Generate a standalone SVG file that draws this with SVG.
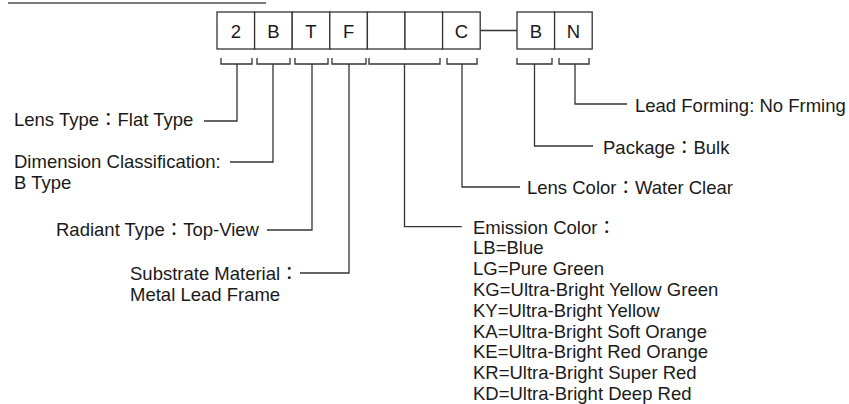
<svg xmlns="http://www.w3.org/2000/svg" width="849" height="404" viewBox="0 0 849 404">
<style>
text{font-family:"Liberation Sans","Noto Sans CJK TC",Arial,sans-serif;font-size:18.5px;fill:#1a1a1a}
.box{fill:#fff;stroke:#333;stroke-width:1.3}
.ch{text-anchor:middle}
.ln{fill:none;stroke:#333;stroke-width:1.3}
.top{stroke:#7a7a7a;stroke-width:2}
</style>
<rect width="849" height="404" fill="#fff"/>
<line class="top" x1="8" y1="3" x2="266" y2="3"/>
<g id="code">
<g id="box-2"><rect class="box" x="217" y="12" width="37.6" height="37"/><text class="ch" x="235.8" y="38">2</text></g>
<g id="box-B"><rect class="box" x="254.6" y="12" width="37.6" height="37"/><text class="ch" x="273.4" y="38">B</text></g>
<g id="box-T"><rect class="box" x="292.2" y="12" width="37.6" height="37"/><text class="ch" x="311" y="38">T</text></g>
<g id="box-F"><rect class="box" x="329.8" y="12" width="37.6" height="37"/><text class="ch" x="348.6" y="38">F</text></g>
<g id="box-e1"><rect class="box" x="367.4" y="12" width="37.6" height="37"/></g>
<g id="box-e2"><rect class="box" x="405" y="12" width="37.6" height="37"/></g>
<g id="box-C"><rect class="box" x="442.6" y="12" width="37.6" height="37"/><text class="ch" x="461.4" y="38">C</text></g>
<g id="box-B2"><rect class="box" x="517" y="12" width="37.6" height="37"/><text class="ch" x="535.8" y="38">B</text></g>
<g id="box-N"><rect class="box" x="554.6" y="12" width="37.6" height="37"/><text class="ch" x="573.4" y="38">N</text></g>
</g>
<g id="connectors">
<line class="ln" x1="480.2" y1="30.5" x2="517" y2="30.5"/>
<path class="ln" d="M221 58V64H252V58M237 64V121H204"/>
<path class="ln" d="M257 58V64H290V58M273 64V162H230"/>
<path class="ln" d="M295 58V64H328V58M312 64V230H267"/>
<path class="ln" d="M332 58V64H366V58M349 64V273H300"/>
<path class="ln" d="M369 58V64H440V58M404.5 64V226.7H461.7"/>
<path class="ln" d="M447 58V64H477V58M462 64V187H520"/>
<path class="ln" d="M517 58V64H552V58M534.5 64V146H593"/>
<path class="ln" d="M559 58V64H589V58M575 64V104H627"/>
</g>
<g id="label-lens-type"><text x="14" y="126">Lens Type：Flat Type</text></g>
<g id="label-dimension"><text x="14" y="168">Dimension Classification:</text><text x="14" y="189">B Type</text></g>
<g id="label-radiant"><text x="56" y="236">Radiant Type：Top-View</text></g>
<g id="label-substrate"><text x="130" y="280">Substrate Material：</text><text x="130" y="301">Metal Lead Frame</text></g>
<g id="label-lead-forming"><text x="635" y="111.5">Lead Forming: No Frming</text></g>
<g id="label-package"><text x="603" y="153.5">Package：Bulk</text></g>
<g id="label-lens-color"><text x="527" y="194">Lens Color：Water Clear</text></g>
<g id="label-emission">
<text x="473" y="233.5">Emission Color：</text>
<text x="473" y="254.3">LB=Blue</text>
<text x="473" y="275.1">LG=Pure Green</text>
<text x="473" y="295.9">KG=Ultra-Bright Yellow Green</text>
<text x="473" y="316.7">KY=Ultra-Bright Yellow</text>
<text x="473" y="337.5">KA=Ultra-Bright Soft Orange</text>
<text x="473" y="358.3">KE=Ultra-Bright Red Orange</text>
<text x="473" y="379.1">KR=Ultra-Bright Super Red</text>
<text x="473" y="399.9">KD=Ultra-Bright Deep Red</text>
</g>
</svg>
